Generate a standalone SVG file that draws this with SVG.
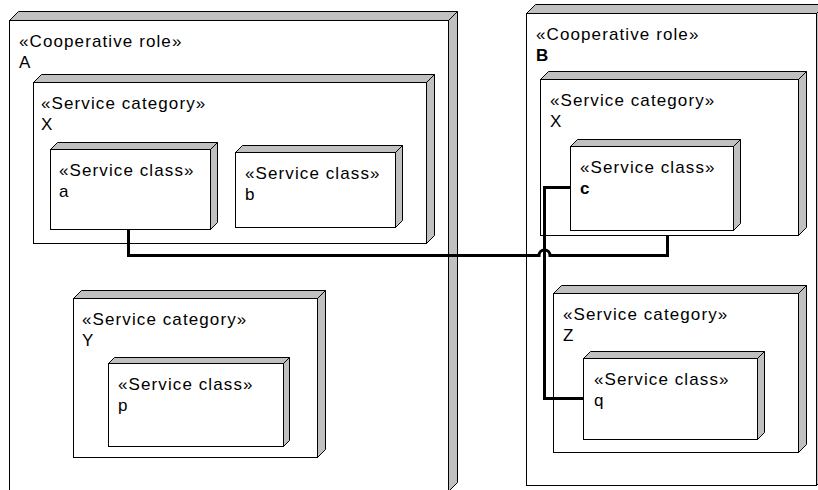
<svg xmlns="http://www.w3.org/2000/svg" width="818" height="490" viewBox="0 0 818 490">
<style>
.face{fill:#c0c0c0;stroke:#000;stroke-width:1;stroke-linejoin:miter}
.front{fill:#fff;stroke:#000;stroke-width:1}
text{font-family:"Liberation Sans",Arial,sans-serif;font-size:17px;fill:#000;letter-spacing:1.1px}
.bold{font-weight:bold}
.conn{fill:none;stroke:#000;stroke-width:3;stroke-linejoin:miter}
</style>
<rect x="0" y="0" width="818" height="490" fill="#fff"/>
<g id="roleA">
<path class="face" d="M9.5,20.5 L18.5,11.5 L457.5,11.5 L448.5,20.5 Z"/>
<path class="face" d="M448.5,20.5 L457.5,11.5 L457.5,482.5 L448.5,491.5 Z"/>
<rect class="front" x="9.5" y="20.5" width="439" height="471"/>
<text x="19" y="47">«Cooperative role»</text>
<text x="19" y="68">A</text>
</g>
<g id="roleB">
<path class="face" d="M526.5,13.5 L535.5,4.5 L825.5,4.5 L816.5,13.5 Z"/>
<path class="face" d="M816.5,13.5 L825.5,4.5 L825.5,476.5 L816.5,485.5 Z"/>
<rect class="front" x="526.5" y="13.5" width="290" height="472"/>
<text x="536" y="40">«Cooperative role»</text>
<text x="536" y="61" class="bold">B</text>
</g>
<g id="catXA">
<path class="face" d="M33.5,82.5 L41.5,74.5 L434.5,74.5 L426.5,82.5 Z"/>
<path class="face" d="M426.5,82.5 L434.5,74.5 L434.5,235.5 L426.5,243.5 Z"/>
<rect class="front" x="33.5" y="82.5" width="393" height="161"/>
<text x="41" y="109">«Service category»</text>
<text x="41" y="130">X</text>
</g>
<g id="classA">
<path class="face" d="M50.5,149.5 L57.5,142.5 L217.5,142.5 L210.5,149.5 Z"/>
<path class="face" d="M210.5,149.5 L217.5,142.5 L217.5,222.5 L210.5,229.5 Z"/>
<rect class="front" x="50.5" y="149.5" width="160" height="80"/>
<text x="59" y="176">«Service class»</text>
<text x="59" y="197">a</text>
</g>
<g id="classB">
<path class="face" d="M235.5,152.5 L242.5,145.5 L402.5,145.5 L395.5,152.5 Z"/>
<path class="face" d="M395.5,152.5 L402.5,145.5 L402.5,220.5 L395.5,227.5 Z"/>
<rect class="front" x="235.5" y="152.5" width="160" height="75"/>
<text x="245" y="179">«Service class»</text>
<text x="245" y="200">b</text>
</g>
<g id="catY">
<path class="face" d="M73.5,298.5 L81.5,290.5 L325.5,290.5 L317.5,298.5 Z"/>
<path class="face" d="M317.5,298.5 L325.5,290.5 L325.5,449.5 L317.5,457.5 Z"/>
<rect class="front" x="73.5" y="298.5" width="244" height="159"/>
<text x="82" y="325">«Service category»</text>
<text x="82" y="346">Y</text>
</g>
<g id="classP">
<path class="face" d="M108.5,363.5 L114.5,357.5 L289.5,357.5 L283.5,363.5 Z"/>
<path class="face" d="M283.5,363.5 L289.5,357.5 L289.5,440.5 L283.5,446.5 Z"/>
<rect class="front" x="108.5" y="363.5" width="175" height="83"/>
<text x="118" y="390">«Service class»</text>
<text x="118" y="411">p</text>
</g>
<g id="catXB">
<path class="face" d="M540.5,79.5 L548.5,71.5 L806.5,71.5 L798.5,79.5 Z"/>
<path class="face" d="M798.5,79.5 L806.5,71.5 L806.5,227.5 L798.5,235.5 Z"/>
<rect class="front" x="540.5" y="79.5" width="258" height="156"/>
<text x="550" y="106">«Service category»</text>
<text x="550" y="127">X</text>
</g>
<g id="classC">
<path class="face" d="M570.5,146.5 L577.5,139.5 L740.5,139.5 L733.5,146.5 Z"/>
<path class="face" d="M733.5,146.5 L740.5,139.5 L740.5,223.5 L733.5,230.5 Z"/>
<rect class="front" x="570.5" y="146.5" width="163" height="84"/>
<text x="580" y="173">«Service class»</text>
<text x="580" y="194" class="bold">c</text>
</g>
<g id="catZ">
<path class="face" d="M553.5,293.5 L561.5,285.5 L806.5,285.5 L798.5,293.5 Z"/>
<path class="face" d="M798.5,293.5 L806.5,285.5 L806.5,444.5 L798.5,452.5 Z"/>
<rect class="front" x="553.5" y="293.5" width="245" height="159"/>
<text x="563" y="320">«Service category»</text>
<text x="563" y="341">Z</text>
</g>
<g id="classQ">
<path class="face" d="M583.5,358.5 L590.5,351.5 L764.5,351.5 L757.5,358.5 Z"/>
<path class="face" d="M757.5,358.5 L764.5,351.5 L764.5,432.5 L757.5,439.5 Z"/>
<rect class="front" x="583.5" y="358.5" width="174" height="81"/>
<text x="594" y="385">«Service class»</text>
<text x="594" y="406">q</text>
</g>
<g id="connectors">
<path class="conn" d="M128.5,230 V255.5 H539 A5.5,5.5 0 0 1 550,255.5 H667.5 V236"/>
<path class="conn" d="M570,187.5 H544.5 V398.5 H583"/>
</g>
</svg>
